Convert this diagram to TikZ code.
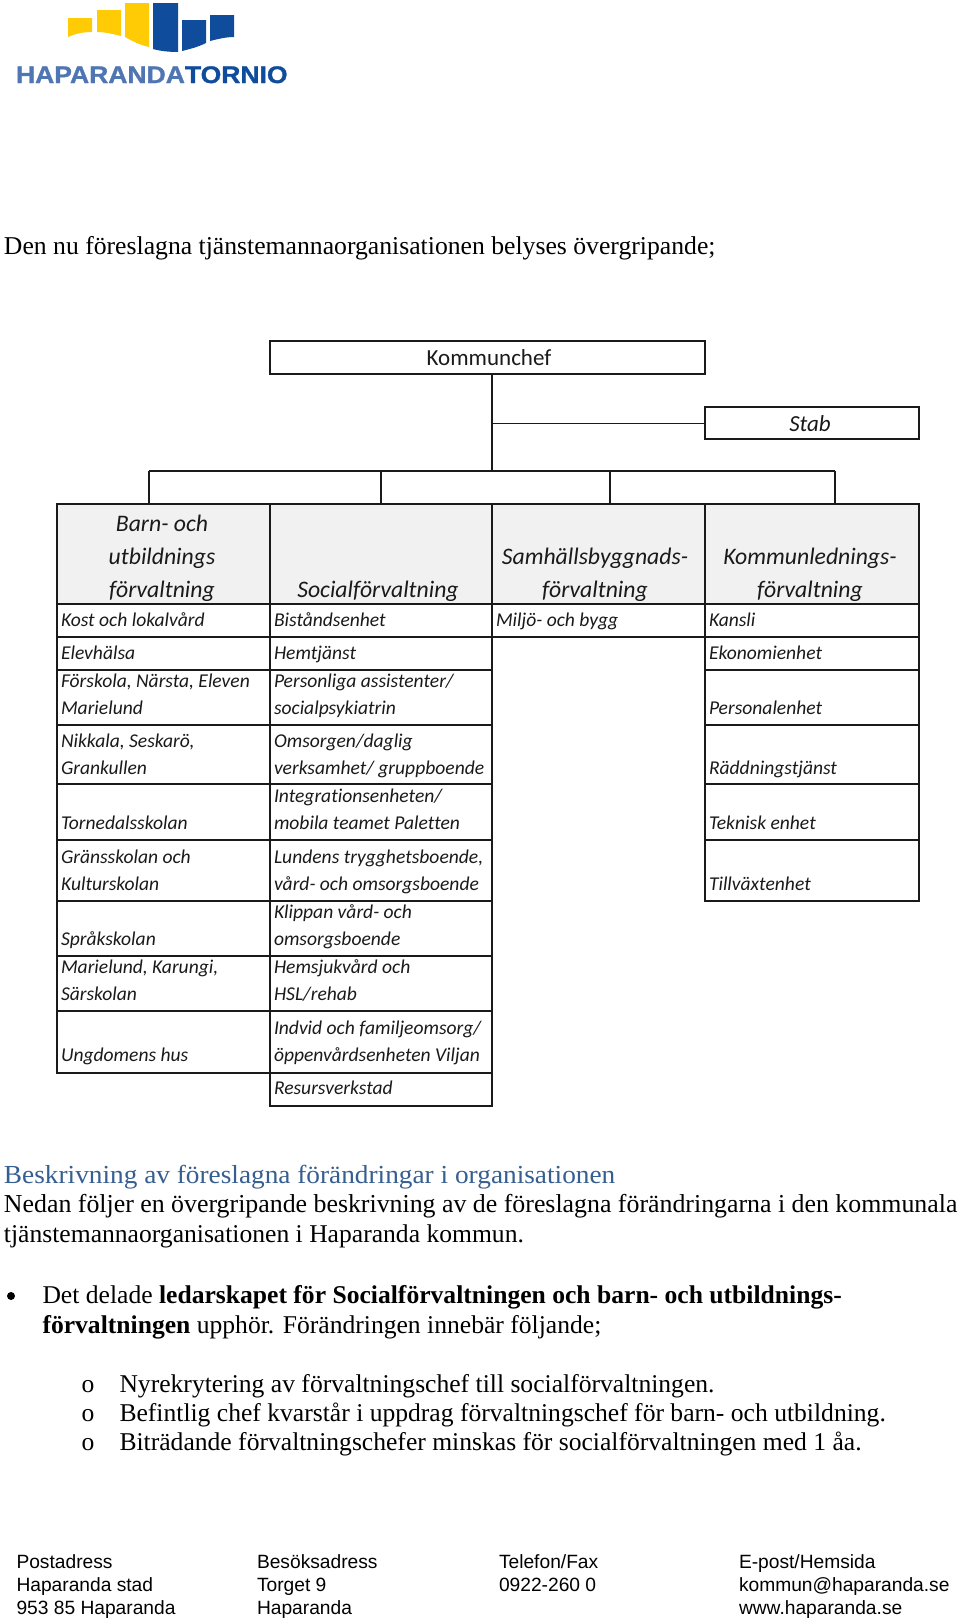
\documentclass[tikz,border=0pt]{standalone}
\usepackage{fontspec}
\setmainfont{Liberation Serif}
\newfontfamily\arialf{Liberation Sans}
\newfontfamily\logof[UprightFont=* Bold,FakeStretch=1.105,FakeBold=1.2]{Liberation Sans}
\newfontfamily\headingf[FakeStretch=1.05]{Liberation Serif}
\newfontfamily\calf[Ligatures=NoCommon]{Carlito}
\definecolor{ink}{HTML}{1A1A1A}
\definecolor{headfill}{HTML}{F1F1F1}
\definecolor{headingblue}{HTML}{365F91}
\definecolor{logoyellow}{HTML}{FFCB05}
\definecolor{logoblue}{HTML}{0F4C9C}
\definecolor{logolight}{HTML}{4F75B3}
\tikzset{
  x=1pt,y=-1pt,
  every node/.style={inner sep=0pt,outer sep=0pt},
  conn/.style={draw=ink,line width=1.3pt},
  thinconn/.style={draw=ink,line width=1pt},
  rowtext/.style={anchor=base west,align=left,text=ink,font=\calf\itshape\fontsize{19.55}{27}\selectfont},
  headtext/.style={anchor=base,align=center,text=ink,font=\calf\itshape\fontsize{23.7}{33}\selectfont},
  bodytext/.style={anchor=base west,font=\fontsize{25.6}{29}\selectfont},
  foottext/.style={anchor=base west,align=left,font=\arialf\fontsize{19.2}{23}\selectfont},
}
% name, x0, y0, x1, y1, fill
\newcommand\cellbox[6]{%
  \node[draw=ink,line width=1.5pt,fill=#6,minimum width=#4pt-#2pt,minimum height=#5pt-#3pt,anchor=north west] (#1) at (#2,#3) {};}
% name, x0, y0, x1, y1, last baseline, text
\newcommand\rowcell[7]{%
  \cellbox{#1}{#2}{#3}{#4}{#5}{white}
  \node[rowtext] (#1-t) at (#2+4,#6) {#7};}
% name, x0, x1, centre, text
\newcommand\headcell[5]{%
  \cellbox{#1}{#2}{504}{#3}{604}{headfill}
  \node[headtext] (#1-t) at (#4,597) {#5};}
\begin{document}
\begin{tikzpicture}
\useasboundingbox (0,0) rectangle (960,1620);
\fill[white] (0,0) rectangle (960,1620);

% logo
\fill[logoyellow] (68,18) -- (92,18) -- (92,32) .. controls (82,32) and (75,34) .. (68,37) -- cycle;
\fill[logoyellow] (97,10) -- (121,10) -- (121,36) .. controls (113,34) and (105,32) .. (97,32) -- cycle;
\fill[logoyellow] (125,3) -- (149,3) -- (149,47) .. controls (140,45) and (132,41) .. (125,37) -- cycle;
\fill[logoblue] (153,3) -- (178,3) -- (178,52) .. controls (169,52) and (160,51) .. (153,49) -- cycle;
\fill[logoblue] (182,20) -- (206,20) -- (206,43) .. controls (198,47) and (190,49) .. (182,51) -- cycle;
\fill[logoblue] (210,15) -- (234,15) -- (234,37) .. controls (226,37) and (218,39) .. (210,41) -- cycle;
\node[anchor=base west,font=\logof\fontsize{24}{24}\selectfont] (logotext) at (16,83)
  {\textcolor{logolight}{HAPARANDA}\textcolor{logoblue}{TORNIO}};

\node[anchor=base west,font=\fontsize{25.68}{29}\selectfont] (intro) at (4,254) {Den nu föreslagna tjänstemannaorganisationen belyses övergripande;};

% top boxes
\cellbox{kommunchef}{270}{341}{705}{374}{white}
\node[anchor=base,text=ink,font=\calf\fontsize{23}{27}\selectfont] (kommunchef-t) at (489,365) {Kommunchef};
\cellbox{stab}{705}{407}{919}{439}{white}
\node[anchor=base,text=ink,font=\calf\itshape\fontsize{23}{27}\selectfont] (stab-t) at (810,431) {Stab};

% header row
\headcell{h1}{57}{270}{162}{Barn- och\\utbildnings\\förvaltning}
\headcell{h2}{270}{492}{378}{Socialförvaltning}
\headcell{h3}{492}{705}{595}{Samhällsbyggnads-\\förvaltning}
\headcell{h4}{705}{919}{810}{Kommunlednings-\\förvaltning}

% column 1
\rowcell{a1}{57}{604}{270}{637}{626}{Kost och lokalvård}
\rowcell{a2}{57}{637}{270}{670}{659}{Elevhälsa}
\rowcell{a3}{57}{670}{270}{725}{714}{Förskola, Närsta, Eleven\\Marielund}
\rowcell{a4}{57}{725}{270}{784}{774}{Nikkala, Seskarö,\\Grankullen}
\rowcell{a5}{57}{784}{270}{840}{829}{Tornedalsskolan}
\rowcell{a6}{57}{840}{270}{901}{890}{Gränsskolan och\\Kulturskolan}
\rowcell{a7}{57}{901}{270}{956}{945}{Språkskolan}
\rowcell{a8}{57}{956}{270}{1011}{1000}{Marielund, Karungi,\\Särskolan}
\rowcell{a9}{57}{1011}{270}{1073}{1061}{Ungdomens hus}
% column 2
\rowcell{b1}{270}{604}{492}{637}{626}{Biståndsenhet}
\rowcell{b2}{270}{637}{492}{670}{659}{Hemtjänst}
\rowcell{b3}{270}{670}{492}{725}{714}{Personliga assistenter/\\socialpsykiatrin}
\rowcell{b4}{270}{725}{492}{784}{774}{Omsorgen/daglig\\verksamhet/ gruppboende}
\rowcell{b5}{270}{784}{492}{840}{829}{Integrationsenheten/\\mobila teamet Paletten}
\rowcell{b6}{270}{840}{492}{901}{890}{Lundens trygghetsboende,\\vård- och omsorgsboende}
\rowcell{b7}{270}{901}{492}{956}{945}{Klippan vård- och\\omsorgsboende}
\rowcell{b8}{270}{956}{492}{1011}{1000}{Hemsjukvård och\\HSL/rehab}
\rowcell{b9}{270}{1011}{492}{1073}{1061}{Indvid och familjeomsorg/\\öppenvårdsenheten Viljan}
\rowcell{b10}{270}{1073}{492}{1106}{1094}{Resursverkstad}
% column 3
\rowcell{c1}{492}{604}{705}{637}{626}{Miljö- och bygg}
% column 4
\rowcell{d1}{705}{604}{919}{637}{626}{Kansli}
\rowcell{d2}{705}{637}{919}{670}{659}{Ekonomienhet}
\rowcell{d3}{705}{670}{919}{725}{714}{Personalenhet}
\rowcell{d4}{705}{725}{919}{784}{774}{Räddningstjänst}
\rowcell{d5}{705}{784}{919}{840}{829}{Teknisk enhet}
\rowcell{d6}{705}{840}{919}{901}{890}{Tillväxtenhet}

% connectors
\coordinate (busc) at (492,471);
\coordinate (bus1) at (149,471);
\coordinate (bus2) at (381,471);
\coordinate (bus3) at (610,471);
\coordinate (bus4) at (835,471);
\draw[conn] (kommunchef.south -| busc) -- (busc);
\draw[thinconn] (stab.west -| busc) -- (stab.west);
\draw[conn] (bus1) -- (bus4);
\draw[conn] (bus1) -- (bus1 |- h1.north);
\draw[conn] (bus2) -- (bus2 |- h2.north);
\draw[conn] (bus3) -- (bus3 |- h3.north);
\draw[conn] (bus4) -- (bus4 |- h4.north);

% body text
\node[anchor=base west,text=headingblue,font=\headingf\fontsize{26}{29}\selectfont] (heading) at (4,1183) {Beskrivning av föreslagna förändringar i organisationen};
\node[anchor=base west,font=\fontsize{25.85}{29}\selectfont] (p1a) at (4,1212) {Nedan följer en övergripande beskrivning av de föreslagna förändringarna i den kommunala};
\node[bodytext] (p1b) at (4,1242) {tjänstemannaorganisationen i Haparanda kommun.};
\fill (11,1296) circle (4);
\node[bodytext] (p2a) at (42.5,1303) {Det delade \textbf{ledarskapet för Socialförvaltningen och barn- och utbildnings-}};
\node[bodytext] (p2b) at (42.5,1333) {\textbf{förvaltningen} upphör. Förändringen innebär följande;};
\node[bodytext] (o1) at (81.5,1392) {o};
\node[bodytext] (o2) at (81.5,1421) {o};
\node[bodytext] (o3) at (81.5,1450) {o};
\node[bodytext] (l1) at (119.5,1392) {Nyrekrytering av förvaltningschef till socialförvaltningen.};
\node[bodytext] (l2) at (119.5,1421) {Befintlig chef kvarstår i uppdrag förvaltningschef för barn- och utbildning.};
\node[bodytext] (l3) at (119.5,1450) {Biträdande förvaltningschefer minskas för socialförvaltningen med 1 åa.};

% footer
\node[foottext] (f1) at (16.5,1614) {Postadress\\Haparanda stad\\953 85 Haparanda};
\node[foottext] (f2) at (257,1614) {Besöksadress\\Torget 9\\Haparanda};
\node[foottext] (f3) at (499,1591) {Telefon/Fax\\0922-260 0};
\node[foottext] (f4) at (739,1614) {E-post/Hemsida\\kommun@haparanda.se\\www.haparanda.se};
\end{tikzpicture}
\end{document}
